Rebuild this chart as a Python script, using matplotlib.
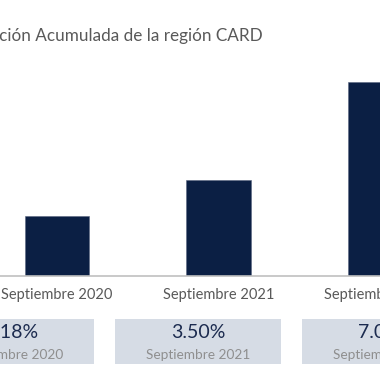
import matplotlib
matplotlib.use("Agg")
import matplotlib.pyplot as plt
from matplotlib.patches import Rectangle

plt.rcParams['font.family'] = ['Lato', 'DejaVu Sans']

# Data
categories = ["Septiembre 2020", "Septiembre 2021", "Septiembre 2022"]
values = [2.18, 3.50, 7.07]
box_values = ["2.18%", "3.50%", "7.07%"]
box_labels = ["Septiembre 2020", "Septiembre 2021", "Septiembre 2022"]
title = "Inflación Acumulada de la región CARD"

W = H = 380
fig = plt.figure(figsize=(3.8, 3.8), dpi=100)
fig.patch.set_facecolor('white')

navy = '#0b1f44'
# bar axes: pixel layout
px_per_unit = 96 / 3.5
base_px = 276
top_px = 40
ax = fig.add_axes([0, 1 - base_px / H, 1, (base_px - top_px) / H])
x = list(range(len(categories)))
ax.bar(x, values, width=0.4, color=navy, edgecolor='#5a6680', linewidth=0.4)
ax.set_xlim(-57.5 / 162.5, (380 - 57.5) / 162.5)
ax.set_ylim(0, (base_px - top_px) / px_per_unit)
for s in ax.spines.values():
    s.set_visible(False)
ax.axhline(0, color='#c0c0c0', linewidth=1.2, clip_on=False)
ax.set_yticks([])
ax.set_xticks(x)
ax.set_xticklabels(categories, fontsize=10.5, color='#595959')
ax.tick_params(axis='x', length=0, pad=9)

# overlay for boxes and title
ov = fig.add_axes([0, 0, 1, 1])
ov.set_xlim(0, W)
ov.set_ylim(H, 0)
ov.axis('off')
ov.patch.set_alpha(0)

box_w = 166
box_left0 = -72
gap = 187
for i, (v, lab) in enumerate(zip(box_values, box_labels)):
    left = box_left0 + i * gap
    ov.add_patch(Rectangle((left, 319), box_w, 45, facecolor='#d6dce5', edgecolor='none'))
    cx = left + box_w / 2
    ov.text(cx, 333, v, ha='center', va='center', fontsize=14, color='#1c2b4f')
    ov.text(cx, 355, lab, ha='center', va='center', fontsize=9.8, color='#8f8f8f')

ov.text(263, 36, title, ha='right', va='center', fontsize=12.3, color='#595959')

fig.savefig('out.png', dpi=100)
